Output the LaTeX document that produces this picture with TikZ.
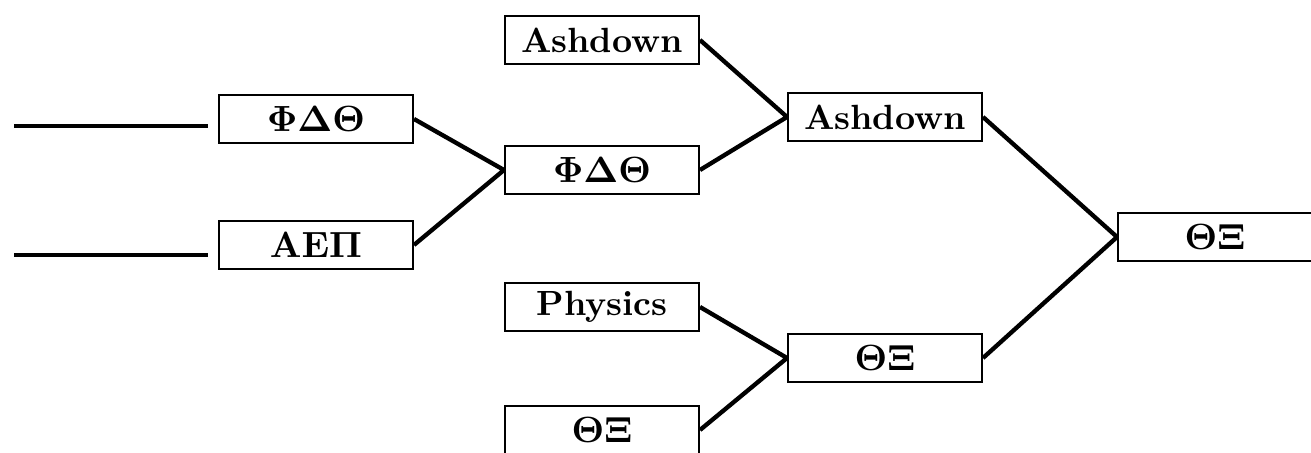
\documentclass[tikz,border=0pt]{standalone}
\tikzset{team/.style={draw, line width=0.6pt, minimum width=58.2pt, minimum height=14.4pt, inner sep=0pt, font=\fontsize{10.5}{12}\selectfont\bfseries},
  wire/.style={line width=1.3pt}}
\begin{document}
\begin{tikzpicture}[x=0.3pt, y=-0.3pt]
\useasboundingbox (0,0) rectangle (1311,453);

% first round
\node[team] (r1a) at (316,119) {$\mathbf{\Phi\Delta\Theta}$};
\node[team] (r1b) at (316,245) {$\mathbf{AE\Pi}$};
\coordinate (in1) at (14,126);  \coordinate (out1) at (208,126);
\coordinate (in2) at (14,255);  \coordinate (out2) at (208,255);

% second round
\node[team] (r2a) at (602,40)  {Ashdown};
\node[team] (r2b) at (602,170) {$\mathbf{\Phi\Delta\Theta}$};
\node[team] (r2c) at (602,307) {Physics};
\node[team] (r2d) at (602,430) {$\mathbf{\Theta\Xi}$};

% third round
\node[team] (r3a) at (885,117) {Ashdown};
\node[team] (r3b) at (885,358) {$\mathbf{\Theta\Xi}$};

% winner
\node[team] (win) at (1215,237) {$\mathbf{\Theta\Xi}$};

\draw[wire] (in1) -- (out1);
\draw[wire] (in2) -- (out2);
\draw[wire] (r1a.east) -- (r2b.west) (r1b.east) -- (r2b.west);
\draw[wire] (r2a.east) -- (r3a.west) (r2b.east) -- (r3a.west);
\draw[wire] (r2c.east) -- (r3b.west) (r2d.east) -- (r3b.west);
\draw[wire] (r3a.east) -- (win.west) (r3b.east) -- (win.west);
\end{tikzpicture}
\end{document}
